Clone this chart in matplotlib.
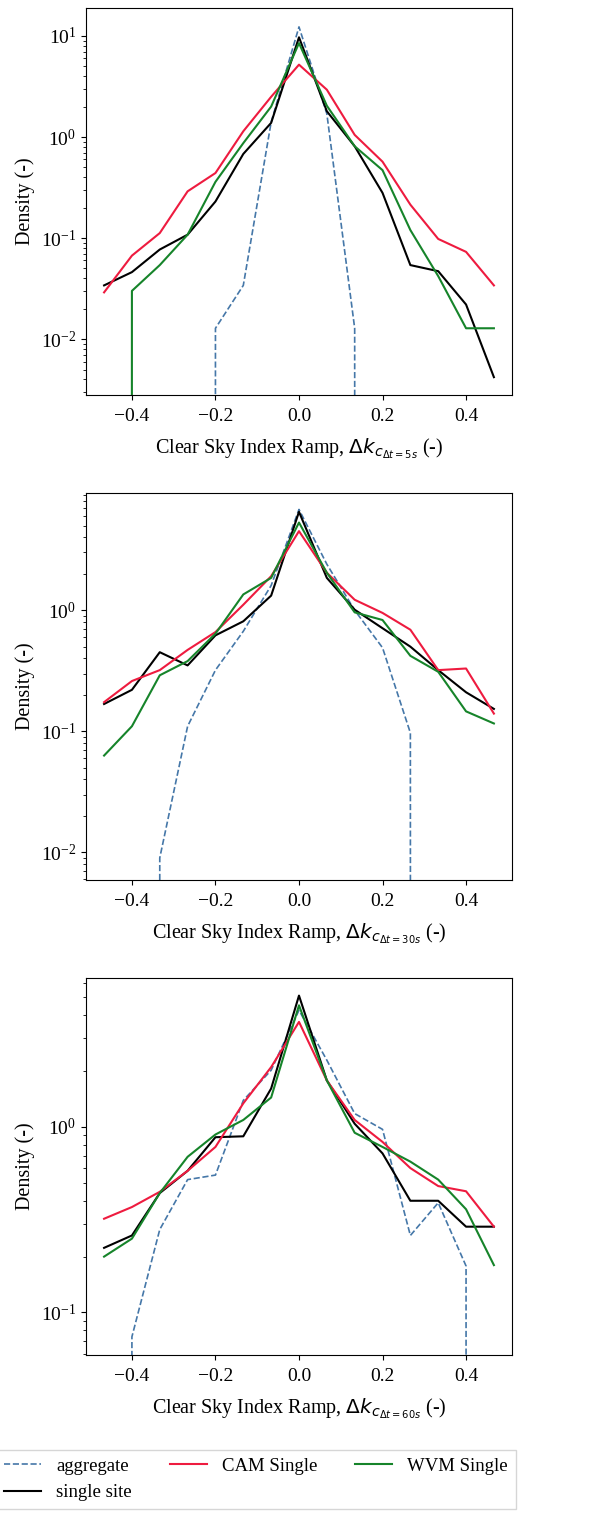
import numpy as np
import matplotlib
matplotlib.use("Agg")
import matplotlib.pyplot as plt

plt.rcParams['font.family'] = ['Liberation Serif', 'DejaVu Serif']
plt.rcParams['mathtext.fontset'] = 'dejavusans'

# bin centres of the ramp histograms
ramp = np.arange(-7, 8) / 15.0

# dt = 5 s
agg_5 = [0, 0, 0, 0, 0.0128, 0.034, 1.4, 12.3, 1.7, 0.0128, 0, 0, 0, 0, 0]
single_5 = [0.034, 0.046, 0.077, 0.108, 0.23, 0.68, 1.38, 9.7, 1.8, 0.81, 0.28, 0.054, 0.047, 0.022, 0.0042]
cam_5 = [0.029, 0.067, 0.112, 0.29, 0.44, 1.14, 2.5, 5.2, 2.94, 1.05, 0.57, 0.214, 0.098, 0.073, 0.034]
wvm_5 = [0, 0.030, 0.054, 0.108, 0.36, 0.87, 2.0, 8.5, 2.04, 0.81, 0.47, 0.12, 0.042, 0.0128, 0.0128]

# dt = 30 s
agg_30 = [0, 0, 0.009, 0.11, 0.32, 0.67, 1.6, 6.8, 2.4, 1.0, 0.49, 0.097, 0, 0, 0]
single_30 = [0.168, 0.22, 0.45, 0.35, 0.62, 0.81, 1.32, 6.5, 1.85, 1.01, 0.71, 0.50, 0.32, 0.21, 0.153]
cam_30 = [0.174, 0.26, 0.32, 0.47, 0.66, 1.11, 1.91, 4.5, 2.04, 1.22, 0.95, 0.69, 0.32, 0.33, 0.14]
wvm_30 = [0.063, 0.11, 0.29, 0.38, 0.64, 1.35, 1.85, 5.3, 2.04, 0.96, 0.83, 0.42, 0.31, 0.146, 0.116]

# dt = 60 s
agg_60 = [0, 0.074, 0.28, 0.52, 0.55, 1.39, 2.02, 4.25, 2.29, 1.18, 0.97, 0.26, 0.39, 0.178, 0]
single_60 = [0.223, 0.26, 0.44, 0.58, 0.88, 0.89, 1.61, 5.1, 1.78, 1.04, 0.72, 0.40, 0.40, 0.29, 0.29]
cam_60 = [0.32, 0.37, 0.447, 0.58, 0.78, 1.34, 2.1, 3.68, 1.78, 1.09, 0.83, 0.60, 0.48, 0.45, 0.29]
wvm_60 = [0.20, 0.25, 0.44, 0.69, 0.91, 1.09, 1.44, 4.52, 1.78, 0.93, 0.78, 0.65, 0.52, 0.36, 0.18]

panels = [
    ('5s', agg_5, single_5, cam_5, wvm_5, (0.0028, 18.9)),
    ('30s', agg_30, single_30, cam_30, wvm_30, (0.0059, 9.3)),
    ('60s', agg_60, single_60, cam_60, wvm_60, (0.059, 6.35)),
]

c_agg = '#4577a8'
c_cam = '#ee1b3f'
c_wvm = '#16842a'

fig = plt.figure(figsize=(5.95, 15.15), dpi=100)
boxes = [(0.1445, 0.7393, 0.716, 0.2554),
         (0.1445, 0.4191, 0.716, 0.2555),
         (0.1445, 0.1056, 0.716, 0.2489)]

for box, (dt, agg, single, cam, wvm, ylim) in zip(boxes, panels):
    ax = fig.add_axes(box)
    ax.plot(ramp, agg, '--', color=c_agg, lw=1.2, label='aggregate')
    ax.plot(ramp, single, color='black', lw=1.5, label='single site')
    ax.plot(ramp, cam, color=c_cam, lw=1.5, label='CAM Single')
    ax.plot(ramp, wvm, color=c_wvm, lw=1.5, label='WVM Single')
    ax.set_yscale('log')
    ax.set_ylim(ylim)
    ax.set_xlim(-0.51, 0.51)
    ax.set_xticks([-0.4, -0.2, 0.0, 0.2, 0.4])
    ax.tick_params(labelsize=14)
    ax.tick_params(axis='x', pad=6)
    ax.set_ylabel('Density (-)', fontsize=14.5)
    ax.set_xlabel(r'Clear Sky Index Ramp, $\Delta k_{c_{\Delta t=' + dt + r'}}$ (-)',
                  fontsize=14.5, labelpad=8)
    handles, labels = ax.get_legend_handles_labels()

fig.legend(handles, labels, loc='upper left', bbox_to_anchor=(-0.006, 1 - 1450 / 1515),
           ncol=3, fontsize=13.5, fancybox=False, edgecolor='0.8', borderaxespad=0)

fig.savefig('out.png', dpi=100)
